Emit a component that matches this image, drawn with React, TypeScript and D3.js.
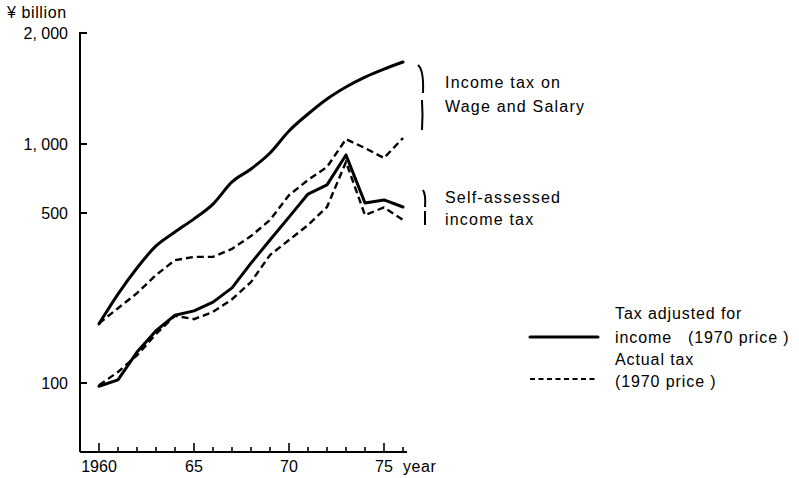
import * as React from 'react';
import { scaleLinear, scaleLog, line, curveLinear, curveMonotoneX } from 'd3';

const years = [1960, 1961, 1962, 1963, 1964, 1965, 1966, 1967, 1968, 1969, 1970, 1971, 1972, 1973, 1974, 1975, 1976];

// Income tax on wage and salary
const wageAdjusted = [175, 232, 297, 366, 418, 473, 547, 683, 778, 914, 1085, 1206, 1325, 1428, 1519, 1597, 1669];
const wageActual = [176, 203, 234, 278, 320, 330, 330, 356, 402, 468, 598, 697, 794, 1031, 960, 869, 1038];

// Self-assessed income tax
const selfAdjusted = [97, 103, 134, 164, 190, 198, 215, 246, 311, 387, 481, 605, 663, 896, 553, 570, 531];
const selfActual = [98, 111, 130, 159, 189, 183, 196, 221, 260, 336, 387, 446, 531, 835, 490, 529, 468];

const yTicks = [100, 500, 1000, 2000];
const yTickLabels = ['100', '500', '1, 000', '2, 000'];
const xMajor = [1960, 1965, 1970, 1975];
const xMajorLabels = ['1960', '65', '70', '75'];

const font = '"Liberation Sans", Arial, sans-serif';

const App = (): JSX.Element => {
    const width = 799;
    const height = 478;
    const axisX = 80;
    const axisY = 452;

    const xScale = scaleLinear().domain([1960, 1976]).range([99, 403]);
    // the printed axis is not evenly logarithmic, so it is piecewise
    const yScale = scaleLog().domain([100, 500, 1000, 2000]).range([383, 213, 144, 33]);

    const makeLine = (vals: number[], curve: any = curveLinear) =>
        line<number>()
            .x((_, i) => xScale(years[i]))
            .y(v => yScale(v))
            .curve(curve)(vals) || '';

    const solid = { fill: 'none', stroke: '#000', strokeWidth: 3, strokeLinejoin: 'round' as const, strokeLinecap: 'round' as const };
    const dashed = { fill: 'none', stroke: '#000', strokeWidth: 2.4, strokeDasharray: '7,4' };
    const txt = { fontFamily: font, fontSize: 16, fill: '#000' };

    return (
        <svg width={width} height={height} style={{ position: 'absolute', left: 0, top: 0, background: '#fff' }}>
            {/* axes */}
            <line x1={axisX} y1={32} x2={axisX} y2={axisY} stroke="#000" strokeWidth={2} />
            <line x1={axisX} y1={axisY} x2={407} y2={axisY} stroke="#000" strokeWidth={2} />
            {yTicks.map((t, i) => (
                <g key={t}>
                    <line x1={axisX} x2={axisX + 7} y1={yScale(t)} y2={yScale(t)} stroke="#000" strokeWidth={2} />
                    <text x={68} y={yScale(t) + 6} textAnchor="end" {...txt}>{yTickLabels[i]}</text>
                </g>
            ))}
            <text x={7} y={18} {...txt} letterSpacing={0.6}>¥ billion</text>
            {years.map(y => (
                <line key={y} x1={xScale(y)} x2={xScale(y)} y1={axisY} y2={axisY - (xMajor.includes(y) ? 9 : 5)} stroke="#000" strokeWidth={1.6} />
            ))}
            {xMajor.map((y, i) => (
                <text key={y} x={xScale(y)} y={472} textAnchor="middle" {...txt}>{xMajorLabels[i]}</text>
            ))}
            <text x={403} y={472} {...txt} letterSpacing={0.6}>year</text>

            {/* series */}
            <path d={makeLine(wageAdjusted, curveMonotoneX)} {...solid} />
            <path d={makeLine(wageActual)} {...dashed} />
            <path d={makeLine(selfAdjusted)} {...solid} />
            <path d={makeLine(selfActual)} {...dashed} />

            {/* brackets and annotations */}
            <path d="M418,65 Q424,70 423,93" fill="none" stroke="#000" strokeWidth={2} />
            <path d="M422,100 Q423,115 422,130" fill="none" stroke="#000" strokeWidth={2} />
            <path d="M423,190 Q426,195 425,207" fill="none" stroke="#000" strokeWidth={2} />
            <path d="M425,211 L425,225" fill="none" stroke="#000" strokeWidth={2} />
            <text x={445} y={88} {...txt} letterSpacing={1.2}>Income tax on</text>
            <text x={445} y={112} {...txt} letterSpacing={1.2}>Wage and Salary</text>
            <text x={445} y={203} {...txt} letterSpacing={1.2}>Self-assessed</text>
            <text x={445} y={225} {...txt} letterSpacing={1.2}>income tax</text>

            {/* legend */}
            <line x1={530} x2={598} y1={337} y2={337} {...solid} />
            <line x1={530} x2={598} y1={379} y2={379} fill="none" stroke="#000" strokeWidth={2} strokeDasharray="5,3.5" />
            <text x={615} y={319} {...txt} letterSpacing={0.9}>Tax adjusted for</text>
            <text x={615} y={343} {...txt} letterSpacing={0.9} style={{ whiteSpace: 'pre' }}>{'income   (1970 price )'}</text>
            <text x={615} y={365} {...txt} letterSpacing={0.9}>Actual tax</text>
            <text x={615} y={387} {...txt} letterSpacing={0.9}>(1970 price )</text>
        </svg>
    );
};

export default App;
